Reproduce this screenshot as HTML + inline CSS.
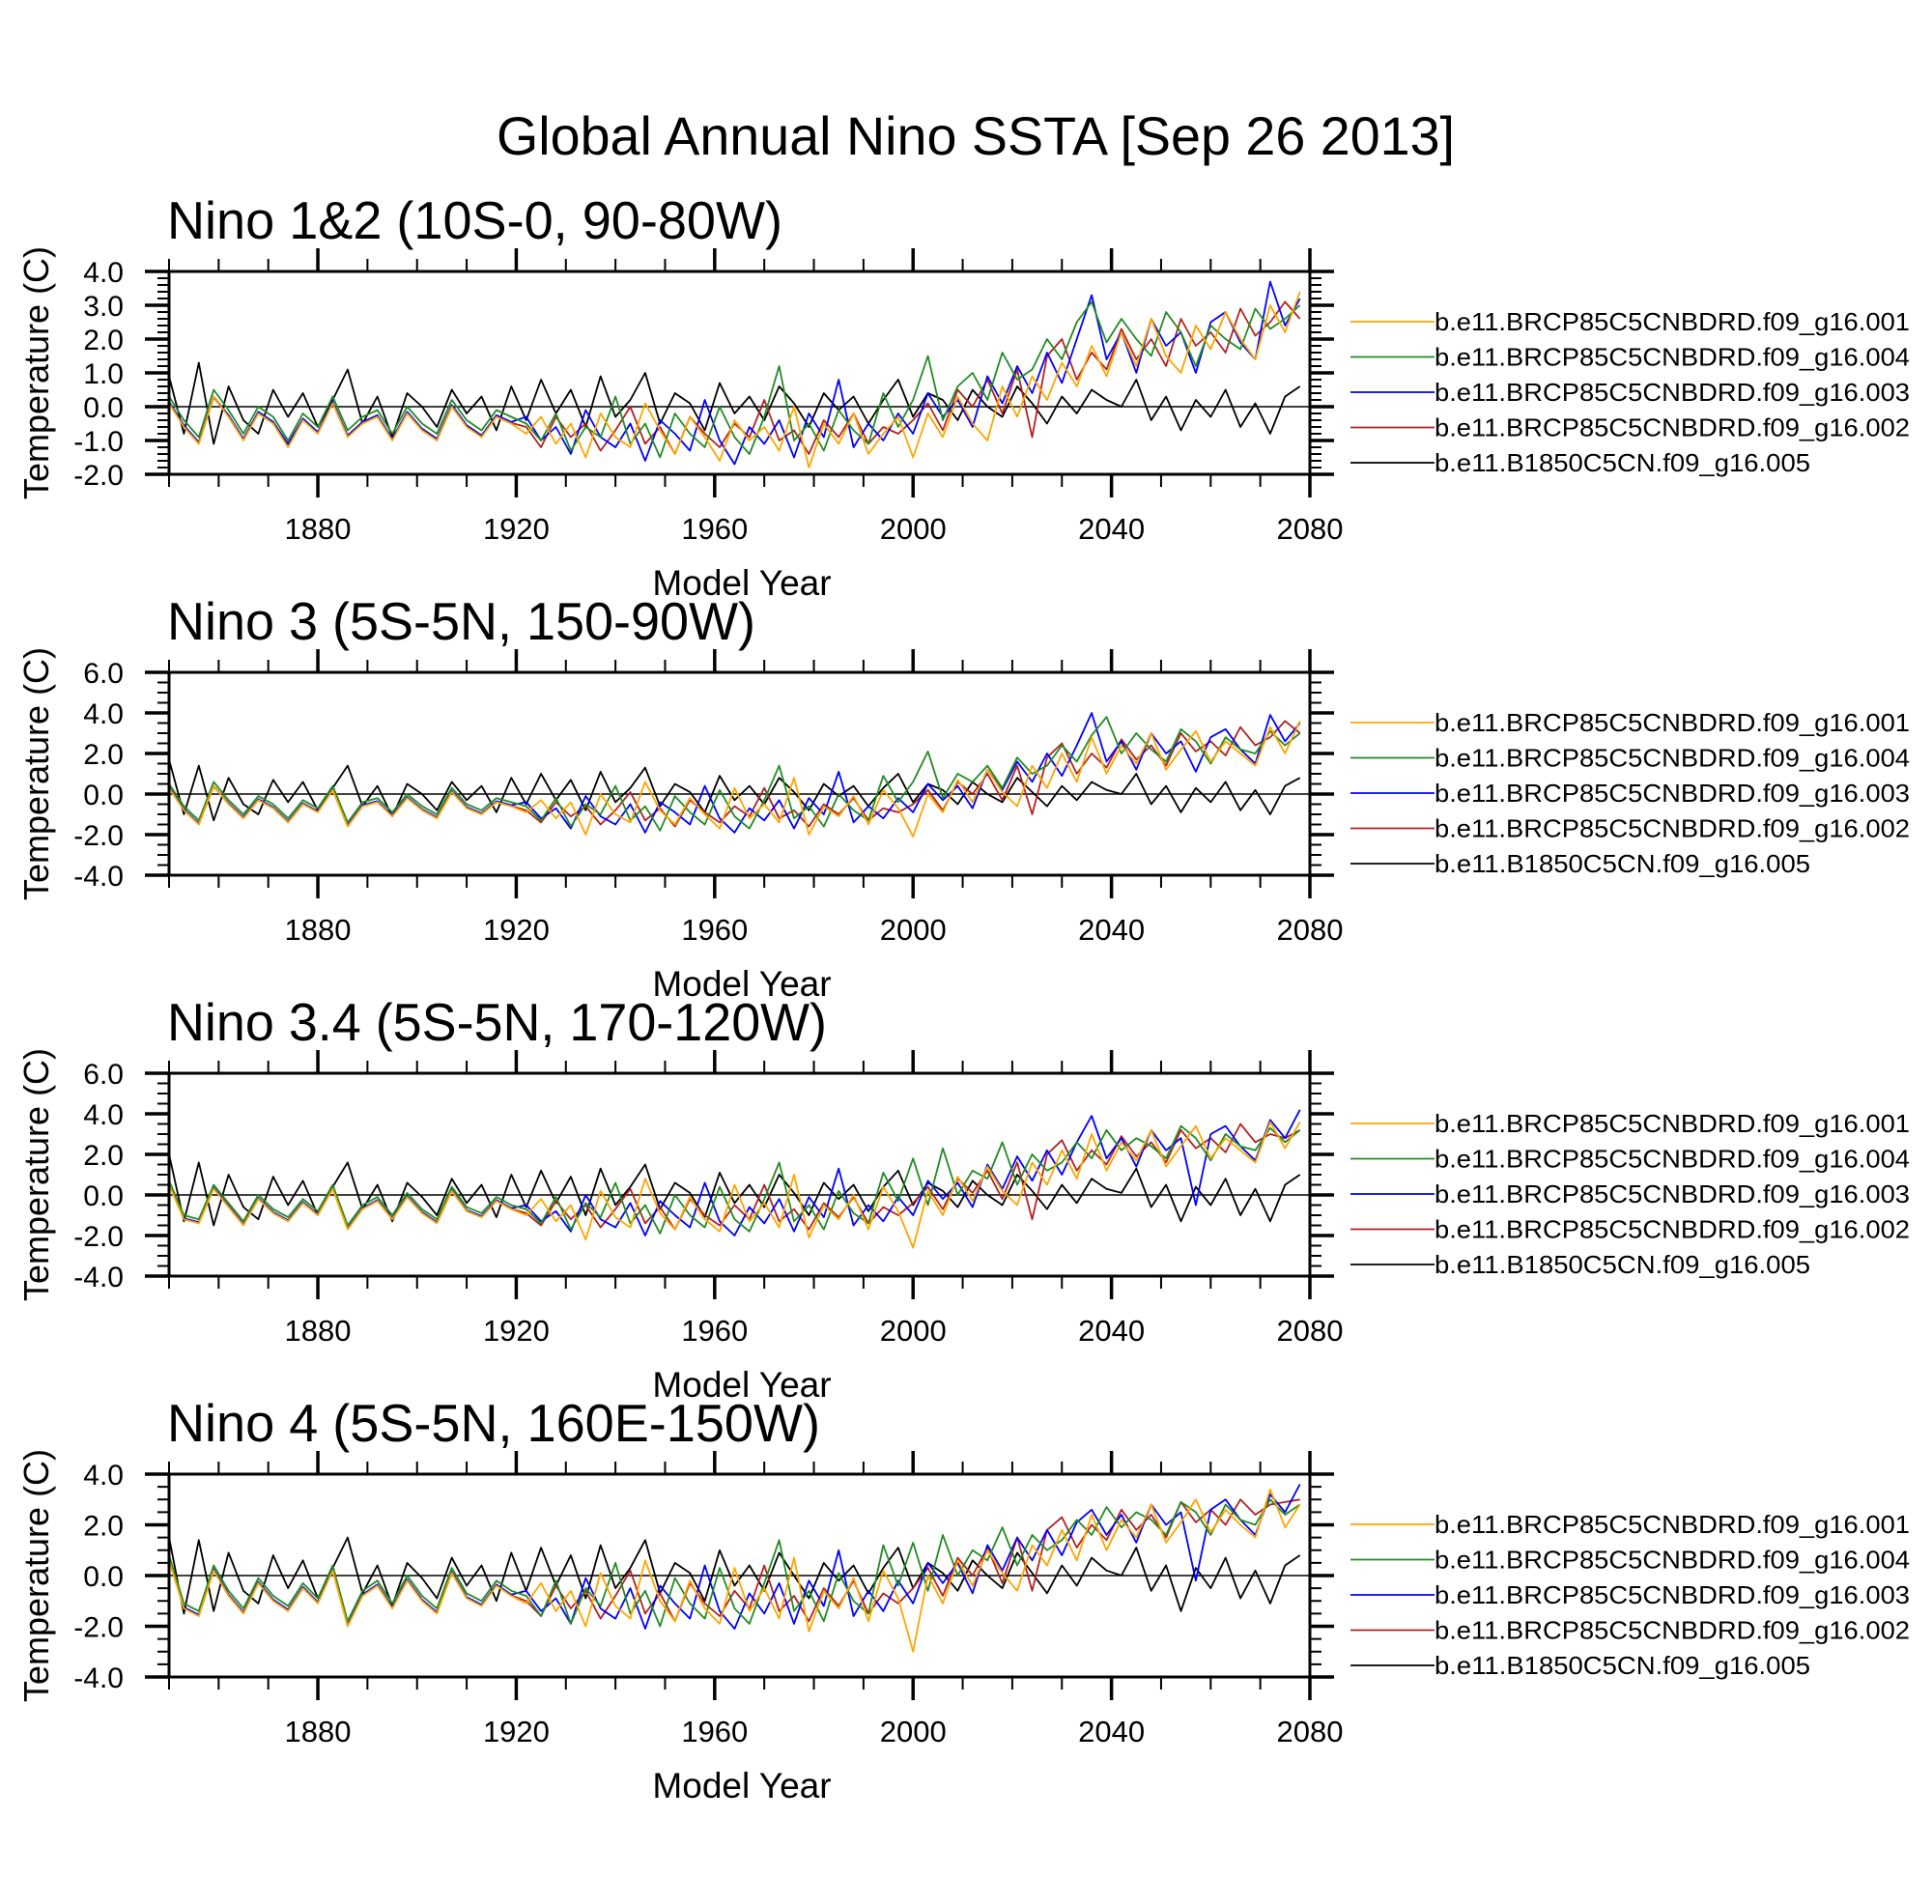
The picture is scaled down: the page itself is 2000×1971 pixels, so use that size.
<!DOCTYPE html>
<html><head><meta charset="utf-8"><title>Global Annual Nino SSTA</title>
<style>
html,body{margin:0;padding:0;background:#fff;}
svg{display:block;font-family:"Liberation Sans",Arial,sans-serif;}
</style></head>
<body>
<svg id="chart" width="2000" height="1971" viewBox="0 0 2000 1971" xmlns="http://www.w3.org/2000/svg">
<rect width="2000" height="1971" fill="#fff"/>
<text x="1010" y="160" font-size="56" text-anchor="middle" textLength="992" lengthAdjust="spacingAndGlyphs">Global Annual Nino SSTA [Sep 26 2013]</text>
</svg>
<script>
const years = [1850,1853,1856,1859,1862,1865,1868,1871,1874,1877,1880,1883,1886,1889,1892,1895,1898,1901,1904,1907,1910,1913,1916,1919,1922,1925,1928,1931,1934,1937,1940,1943,1946,1949,1952,1955,1958,1961,1964,1967,1970,1973,1976,1979,1982,1985,1988,1991,1994,1997,2000,2003,2006,2009,2012,2015,2018,2021,2024,2027,2030,2033,2036,2039,2042,2045,2048,2051,2054,2057,2060,2063,2066,2069,2072,2075,2078];
const xTicks = [1880,1920,1960,2000,2040,2080];
const seriesNames = ["b.e11.BRCP85C5CNBDRD.f09_g16.001","b.e11.BRCP85C5CNBDRD.f09_g16.004","b.e11.BRCP85C5CNBDRD.f09_g16.003","b.e11.BRCP85C5CNBDRD.f09_g16.002","b.e11.B1850C5CN.f09_g16.005"];
const panelTitles = ["Nino 1&2 (10S-0, 90-80W)","Nino 3 (5S-5N, 150-90W)","Nino 3.4 (5S-5N, 170-120W)","Nino 4 (5S-5N, 160E-150W)"];
const titleWidths = [637,609,683,676];
const yMins = [-2,-4,-4,-4];
const yMaxs = [4,6,6,4];
const yMajorSteps = [1,2,2,2];
const yMinorSteps = [0.2,0.5,0.5,0.5];

// Nino 1&2
const p1_001 = [0.1,-0.6,-1.1,0.3,-0.3,-1.0,-0.2,-0.5,-1.2,-0.4,-0.8,0.1,-0.9,-0.5,-0.3,-1.0,-0.2,-0.7,-1.0,0.0,-0.6,-0.9,-0.3,-0.5,-0.8,-0.3,-1.1,-0.5,-1.5,-0.2,-0.9,-1.2,0.1,-0.7,-1.4,-0.3,-0.9,-1.6,-0.4,-1.0,-0.6,-1.3,0.0,-1.8,-0.5,-1.1,-0.2,-1.4,-0.8,-0.3,-1.5,-0.2,-0.9,0.3,-0.5,-1.0,0.6,-0.3,0.9,0.2,1.3,0.6,1.8,0.9,2.2,1.2,2.6,1.5,1.0,2.4,1.7,2.8,2.0,1.4,3.0,2.2,3.4];
const p1_004 = [0.3,-0.4,-0.9,0.5,-0.1,-0.8,0.0,-0.3,-1.0,-0.2,-0.6,0.3,-0.7,-0.3,-0.1,-0.8,0.0,-0.5,-0.8,0.2,-0.4,-0.7,-0.1,-0.3,-0.5,-1.0,-0.2,-1.3,-0.6,-0.9,0.3,-1.1,-0.5,-1.5,-0.2,-0.8,-1.2,0.0,-0.9,-1.4,-0.3,1.2,-1.0,-0.5,-1.3,-0.1,-0.7,-1.1,0.4,-0.6,0.2,1.5,-0.4,0.6,1.0,0.2,1.6,0.8,1.1,2.0,1.4,2.5,3.1,1.9,2.6,2.0,1.5,2.8,2.2,1.2,2.4,2.0,1.7,2.9,2.3,2.6,3.0];
const p1_003 = [0.15,-0.55,-1.05,0.3,-0.25,-0.95,-0.15,-0.45,-1.1,-0.35,-0.75,0.15,-0.85,-0.45,-0.25,-0.95,-0.15,-0.65,-0.95,0.05,-0.55,-0.85,-0.25,-0.45,-0.3,-1.0,-0.6,-1.4,-0.1,-0.9,-1.2,-0.5,-1.6,-0.4,-0.8,-1.3,0.2,-1.0,-1.7,-0.6,-1.1,-0.4,-1.5,-0.2,-0.9,0.8,-1.2,-0.5,-1.0,-0.2,-0.8,0.4,-0.3,0.2,-0.6,0.9,0.1,1.2,0.4,1.6,0.7,2.0,3.3,1.4,2.2,1.0,2.6,1.8,2.2,1.0,2.5,2.8,1.9,1.4,3.7,2.4,3.2];
const p1_002 = [0.12,-0.58,-1.08,0.28,-0.28,-0.98,-0.18,-0.48,-1.15,-0.38,-0.78,0.12,-0.88,-0.48,-0.28,-0.98,-0.18,-0.68,-0.98,0.02,-0.58,-0.88,-0.28,-0.48,-0.6,-1.2,-0.3,-0.9,-0.5,-1.3,-0.7,0.0,-1.1,-0.6,-1.4,-0.3,-0.8,-1.2,-0.5,-0.9,0.2,-1.0,-0.7,-1.4,-0.4,-0.9,-0.2,-1.1,-0.6,-0.8,-0.4,0.1,-0.7,0.5,0.0,0.8,-0.2,1.1,-0.9,1.5,2.0,0.8,1.6,1.1,2.3,1.4,2.0,1.2,2.6,1.8,2.2,1.6,2.9,2.1,2.5,3.1,2.6];
const p1_005 = [0.9,-0.8,1.3,-1.1,0.6,-0.4,-0.8,0.5,-0.3,0.4,-0.6,0.2,1.1,-0.5,0.3,-0.9,0.4,0.0,-0.6,0.5,-0.2,0.3,-0.7,0.6,-0.4,0.8,-0.2,0.5,-0.6,0.9,-0.3,0.2,1.0,-0.5,0.4,0.1,-0.7,0.7,-0.2,0.3,-0.4,0.6,0.1,-0.6,0.4,-0.1,0.3,-0.5,0.2,0.8,-0.3,0.4,0.2,-0.4,0.5,0.0,-0.3,0.6,0.1,-0.5,0.3,-0.2,0.5,0.2,0.0,0.8,-0.4,0.3,-0.7,0.2,-0.3,0.5,-0.6,0.1,-0.8,0.3,0.6];

// Nino 3
const p2_001 = [0.3,-0.8,-1.5,0.4,-0.5,-1.2,-0.3,-0.7,-1.4,-0.5,-0.9,0.2,-1.6,-0.6,-0.4,-1.1,-0.2,-0.8,-1.2,0.1,-0.7,-1.0,-0.4,-0.6,-0.9,-0.3,-1.2,-0.4,-2.0,0.0,-1.0,-1.4,0.6,-0.8,-1.5,-0.2,-1.0,-1.7,0.3,-1.2,-0.5,-1.4,0.8,-2.0,-0.6,-1.1,-0.1,-1.5,0.2,-0.7,-2.1,0.0,-0.9,0.7,-0.4,1.2,0.1,-0.6,1.4,0.3,2.0,0.6,2.8,1.0,2.4,1.5,3.0,1.2,2.2,3.1,1.6,2.6,2.0,1.4,3.3,2.0,3.6];
const p2_004 = [0.5,-0.6,-1.3,0.6,-0.3,-1.0,-0.1,-0.5,-1.2,-0.3,-0.7,0.4,-1.4,-0.4,-0.2,-0.9,0.0,-0.6,-1.0,0.3,-0.5,-0.8,-0.2,-0.4,-0.6,-1.3,-0.2,-1.6,-0.5,-1.0,0.4,-1.3,-0.6,-1.8,-0.1,-0.9,-1.5,0.2,-1.1,-1.7,-0.3,1.4,-1.2,-0.6,-1.6,0.0,-0.8,-1.3,0.9,-0.4,0.6,2.1,-0.2,1.0,0.6,1.4,0.3,1.8,1.0,1.4,2.4,1.6,2.9,3.8,2.0,3.0,2.2,1.6,3.2,2.6,1.5,2.8,2.2,2.0,3.1,2.4,3.0];
const p2_003 = [0.35,-0.75,-1.45,0.4,-0.45,-1.15,-0.25,-0.65,-1.35,-0.45,-0.85,0.25,-1.55,-0.55,-0.35,-1.05,-0.15,-0.75,-1.15,0.15,-0.65,-0.95,-0.35,-0.55,-0.4,-1.2,-0.7,-1.7,-0.1,-1.1,-1.5,-0.5,-1.9,-0.4,-0.9,-1.5,0.4,-1.2,-1.9,-0.7,-1.3,-0.3,-1.7,-0.2,-1.0,1.1,-1.4,-0.6,-1.2,-0.2,-0.9,0.5,-0.3,0.4,-0.7,1.2,0.2,1.6,0.6,2.0,0.9,2.4,4.0,1.6,2.6,1.2,3.0,2.0,2.6,1.1,2.8,3.2,2.2,1.5,3.9,2.6,3.5];
const p2_002 = [0.32,-0.78,-1.48,0.38,-0.48,-1.18,-0.28,-0.68,-1.38,-0.48,-0.88,0.22,-1.58,-0.58,-0.38,-1.08,-0.18,-0.78,-1.18,0.12,-0.68,-0.98,-0.38,-0.58,-0.8,-1.4,-0.4,-1.1,-0.6,-1.5,-0.8,0.1,-1.3,-0.7,-1.6,-0.3,-0.9,-1.4,-0.6,-1.1,0.3,-1.2,-0.8,-1.6,-0.5,-1.0,-0.2,-1.3,-0.7,-0.9,-0.5,0.2,-0.8,0.6,0.0,1.0,-0.3,1.4,-1.0,1.8,2.5,1.0,2.0,1.3,2.7,1.7,2.4,1.4,3.0,2.1,2.6,1.9,3.3,2.4,2.8,3.6,3.0];
const p2_005 = [1.7,-1.0,1.4,-1.3,0.8,-0.5,-1.0,0.7,-0.4,0.6,-0.8,0.3,1.4,-0.6,0.4,-1.1,0.5,0.0,-0.8,0.6,-0.3,0.4,-0.9,0.8,-0.5,1.0,-0.3,0.7,-0.8,1.1,-0.4,0.3,1.3,-0.6,0.5,0.1,-0.9,0.9,-0.3,0.4,-0.5,0.8,0.1,-0.8,0.5,-0.1,0.4,-0.6,0.3,1.0,-0.4,0.5,0.2,-0.5,0.6,0.0,-0.4,0.8,0.1,-0.6,0.4,-0.3,0.6,0.2,0.0,1.0,-0.5,0.4,-0.9,0.3,-0.4,0.6,-0.8,0.2,-1.0,0.4,0.8];

// Nino 3.4
const p3_001 = [0.5,-1.2,-1.4,0.3,-0.6,-1.5,-0.2,-0.9,-1.3,-0.4,-1.0,0.3,-1.7,-0.7,-0.3,-1.2,-0.1,-0.9,-1.4,0.2,-0.8,-1.1,-0.3,-0.7,-1.0,-0.2,-1.3,-0.5,-2.2,0.2,-1.1,-1.6,0.8,-0.9,-1.7,-0.1,-1.2,-1.8,0.5,-1.3,-0.4,-1.6,1.0,-2.1,-0.5,-1.2,0.0,-1.7,0.4,-0.8,-2.6,0.2,-1.0,0.9,-0.3,1.4,0.2,-0.5,1.6,0.5,2.2,0.8,3.0,1.2,2.6,1.7,3.2,1.4,2.4,3.4,1.8,2.8,2.2,1.6,3.6,2.3,3.6];
const p3_004 = [0.7,-1.0,-1.2,0.5,-0.4,-1.3,0.0,-0.7,-1.1,-0.2,-0.8,0.5,-1.5,-0.5,-0.1,-1.0,0.1,-0.7,-1.2,0.4,-0.6,-0.9,-0.1,-0.5,-0.7,-1.4,-0.1,-1.7,-0.4,-1.1,0.6,-1.4,-0.5,-1.9,0.0,-1.0,-1.6,0.4,-1.2,-1.8,-0.2,1.6,-1.3,-0.5,-1.7,0.2,-0.9,-1.4,1.1,-0.3,1.8,-0.5,2.3,0.0,1.2,0.8,2.6,0.5,2.0,1.2,1.6,2.6,1.8,3.2,2.2,2.8,2.4,1.8,3.4,2.8,1.7,3.0,2.4,2.2,3.3,2.6,3.2];
const p3_003 = [0.55,-1.15,-1.35,0.35,-0.55,-1.45,-0.15,-0.85,-1.25,-0.35,-0.95,0.35,-1.65,-0.65,-0.25,-1.15,-0.05,-0.85,-1.35,0.25,-0.75,-1.05,-0.25,-0.65,-0.5,-1.3,-0.8,-1.8,0.0,-1.2,-1.6,-0.4,-2.0,-0.3,-1.0,-1.6,0.6,-1.3,-2.0,-0.6,-1.4,-0.2,-1.8,-0.1,-1.1,1.3,-1.5,-0.5,-1.3,-0.1,-1.0,0.7,-0.2,0.6,-0.6,1.5,0.3,1.9,0.7,2.2,1.0,2.6,3.9,1.8,2.8,1.4,3.2,2.2,2.8,-0.5,3.0,3.4,2.4,1.7,3.7,2.8,4.2];
const p3_002 = [0.52,-1.18,-1.38,0.32,-0.58,-1.48,-0.18,-0.88,-1.28,-0.38,-0.98,0.32,-1.68,-0.68,-0.28,-1.18,-0.08,-0.88,-1.38,0.22,-0.78,-1.08,-0.28,-0.68,-0.9,-1.5,-0.3,-1.2,-0.5,-1.6,-0.7,0.3,-1.4,-0.6,-1.7,-0.2,-1.0,-1.5,-0.5,-1.2,0.5,-1.3,-0.7,-1.7,-0.4,-1.1,-0.1,-1.4,-0.6,-1.0,-0.4,0.4,-0.7,0.8,0.1,1.2,-0.2,1.6,-1.2,2.0,2.7,1.2,2.2,1.5,2.9,1.9,2.6,1.6,3.2,2.3,2.8,2.1,3.5,2.6,3.0,2.8,3.2];
const p3_005 = [2.0,-1.3,1.6,-1.5,1.0,-0.6,-1.2,0.9,-0.5,0.7,-1.0,0.4,1.6,-0.7,0.5,-1.3,0.6,-0.1,-1.0,0.8,-0.4,0.5,-1.1,1.0,-0.6,1.2,-0.4,0.9,-1.0,1.3,-0.5,0.4,1.5,-0.7,0.6,0.1,-1.1,1.1,-0.4,0.5,-0.6,1.0,0.1,-1.0,0.6,-0.2,0.5,-0.8,0.4,1.2,-0.5,0.6,0.2,-0.6,0.7,0.0,-0.5,1.0,0.2,-0.7,0.5,-0.4,0.8,0.3,0.1,1.3,-0.6,0.5,-1.3,0.4,-0.5,0.8,-1.0,0.3,-1.3,0.5,1.0];

// Nino 4
const p4_001 = [0.6,-1.3,-1.6,0.2,-0.8,-1.5,-0.3,-1.0,-1.4,-0.5,-1.1,0.2,-2.0,-0.8,-0.4,-1.3,-0.2,-1.0,-1.5,0.1,-0.9,-1.2,-0.4,-0.8,-1.1,-0.3,-1.4,-0.6,-2.0,0.1,-1.2,-1.7,0.6,-1.0,-1.8,-0.2,-1.3,-1.9,0.3,-1.4,-0.5,-1.7,0.7,-2.2,-0.6,-1.3,-0.1,-1.8,0.2,-0.9,-3.0,0.0,-1.1,0.6,-0.4,1.0,0.1,-0.6,1.2,0.4,1.8,0.6,2.4,1.0,2.2,1.5,2.8,1.3,2.1,3.0,1.7,2.6,2.0,1.5,3.4,1.9,2.8];
const p4_004 = [0.8,-1.1,-1.4,0.4,-0.6,-1.3,-0.1,-0.8,-1.2,-0.3,-0.9,0.4,-1.8,-0.6,-0.2,-1.1,0.0,-0.8,-1.3,0.3,-0.7,-1.0,-0.2,-0.6,-0.8,-1.6,-0.2,-1.9,-0.5,-1.2,0.5,-1.5,-0.6,-2.0,-0.1,-1.1,-1.7,0.3,-1.3,-1.9,-0.3,1.4,-1.4,-0.6,-1.8,0.1,-1.0,-1.5,1.2,-0.4,1.3,-0.6,1.6,0.0,1.0,0.6,1.9,0.4,1.6,1.0,1.4,2.2,1.6,2.7,1.9,2.5,2.2,1.6,2.9,2.5,1.6,2.8,2.2,2.0,3.0,2.4,2.8];
const p4_003 = [0.65,-1.25,-1.55,0.25,-0.75,-1.45,-0.25,-0.95,-1.35,-0.45,-1.05,0.25,-1.95,-0.75,-0.35,-1.25,-0.15,-0.95,-1.45,0.15,-0.85,-1.15,-0.35,-0.75,-0.6,-1.4,-0.9,-1.9,-0.1,-1.3,-1.7,-0.5,-2.1,-0.4,-1.1,-1.7,0.4,-1.4,-2.1,-0.7,-1.5,-0.3,-1.9,-0.2,-1.2,1.0,-1.6,-0.6,-1.4,-0.2,-1.1,0.5,-0.3,0.5,-0.7,1.2,0.2,1.5,0.6,1.8,0.8,2.1,2.6,1.6,2.4,1.3,2.8,2.0,2.5,-0.2,2.6,3.0,2.2,1.6,3.2,2.5,3.6];
const p4_002 = [0.62,-1.28,-1.58,0.22,-0.78,-1.48,-0.28,-0.98,-1.38,-0.48,-1.08,0.22,-1.98,-0.78,-0.38,-1.28,-0.18,-0.98,-1.48,0.12,-0.88,-1.18,-0.38,-0.78,-1.0,-1.6,-0.4,-1.3,-0.6,-1.7,-0.8,0.2,-1.5,-0.7,-1.8,-0.3,-1.1,-1.6,-0.6,-1.3,0.4,-1.4,-0.8,-1.8,-0.5,-1.2,-0.2,-1.5,-0.7,-1.1,-0.5,0.3,-0.8,0.7,0.0,1.1,-0.3,1.5,-0.6,1.8,2.3,1.1,2.0,1.4,2.6,1.8,2.4,1.5,2.9,2.1,2.6,2.0,3.0,2.4,2.8,2.9,3.0];
const p4_005 = [1.5,-1.5,1.4,-1.4,0.9,-0.6,-1.1,0.8,-0.5,0.6,-0.9,0.3,1.5,-0.7,0.4,-1.2,0.5,-0.1,-0.9,0.7,-0.4,0.4,-1.0,0.9,-0.6,1.1,-0.4,0.8,-0.9,1.2,-0.5,0.3,1.4,-0.7,0.5,0.1,-1.0,1.0,-0.4,0.4,-0.6,0.9,0.0,-0.9,0.5,-0.2,0.4,-0.7,0.3,1.1,-0.5,0.5,0.1,-0.6,0.6,0.0,-0.5,0.9,0.1,-0.7,0.4,-0.4,0.7,0.2,0.0,1.1,-0.6,0.4,-1.4,0.3,-0.5,0.7,-0.9,0.2,-1.1,0.4,0.8];

const panelData = [
  [p1_001,p1_004,p1_003,p1_002,p1_005],
  [p2_001,p2_004,p2_003,p2_002,p2_005],
  [p3_001,p3_004,p3_003,p3_002,p3_005],
  [p4_001,p4_004,p4_003,p4_002,p4_005]
];
const colors = ["#FFA500","#228B22","#0000FF","#B22222","#000000"];
const drawOrder = [4,3,2,1,0];

const NS = "http://www.w3.org/2000/svg";
const svg = document.getElementById("chart");
function mk(tag, attrs, parent, text){
  const e = document.createElementNS(NS, tag);
  for (const k in attrs) e.setAttribute(k, attrs[k]);
  if (text !== undefined) e.textContent = text;
  (parent || svg).appendChild(e);
  return e;
}
const X0 = 175, X1 = 1356, XMIN = 1850, XMAX = 2080;
const PH = 210, TOP0 = 281, DY = 415;
const xs = v => X0 + (v - XMIN) / (XMAX - XMIN) * (X1 - X0);

for (let p = 0; p < 4; p++) {
  const top = TOP0 + p * DY, bot = top + PH;
  const ymin = yMins[p], ymax = yMaxs[p];
  const ys = v => bot - (v - ymin) / (ymax - ymin) * PH;
  const g = mk("g", {});
  
  

  const t = mk("text", {x: 173, y: top - 34, "font-size": 55, textLength: titleWidths[p], lengthAdjust: "spacingAndGlyphs"}, g, panelTitles[p]);
  
  

  const z = mk("line", {x1: X0, x2: X1, y1: ys(0), y2: ys(0), stroke: "#000", "stroke-width": 1.6}, g);
  
  

  const clipId = "clip" + p;
  const cp = mk("clipPath", {id: clipId}, g);
  mk("rect", {x: X0, y: top, width: X1 - X0, height: PH}, cp);
  for (const s of drawOrder) {
    const vals = panelData[p][s];
    const n = Math.min(vals.length, years.length);
    let d = "";
    for (let i = 0; i < n; i++) d += (i ? "L" : "M") + xs(years[i]).toFixed(1) + "," + ys(vals[i]).toFixed(1);
    const path = mk("path", {d: d, fill: "none", stroke: colors[s], "stroke-width": 1.8, "stroke-linejoin": "round", "clip-path": "url(#" + clipId + ")"}, g);
    
    
  }

  const fr = mk("rect", {x: X0, y: top, width: X1 - X0, height: PH, fill: "none", stroke: "#000", "stroke-width": 3}, g);
  
  

  for (let yr = 1850; yr <= 2080; yr += 10) {
    const major = xTicks.indexOf(yr) >= 0;
    const L = major ? 24 : 13, w = major ? 3.5 : 2;
    mk("line", {x1: xs(yr), x2: xs(yr), y1: top, y2: top - L, stroke: "#000", "stroke-width": w}, g);
    mk("line", {x1: xs(yr), x2: xs(yr), y1: bot, y2: bot + L, stroke: "#000", "stroke-width": w}, g);
  }
  for (const yr of xTicks) {
    const tl = mk("text", {x: xs(yr), y: bot + 67, "font-size": 31, "text-anchor": "middle"}, g, String(yr));
    
    
  }
  const nMin = Math.round((ymax - ymin) / yMinorSteps[p]);
  for (let i = 0; i <= nMin; i++) {
    const v = ymin + i * yMinorSteps[p];
    const major = Math.abs(v / yMajorSteps[p] - Math.round(v / yMajorSteps[p])) < 1e-6;
    const L = major ? 25 : 12, w = major ? 3.5 : 2;
    mk("line", {x1: X0, x2: X0 - L, y1: ys(v), y2: ys(v), stroke: "#000", "stroke-width": w}, g);
    mk("line", {x1: X1, x2: X1 + L, y1: ys(v), y2: ys(v), stroke: "#000", "stroke-width": w}, g);
    if (major) {
      const yl = mk("text", {x: 128, y: ys(v) + 11, "font-size": 30, "text-anchor": "end"}, g, v.toFixed(1));
      
      
    }
  }
  const yt = mk("text", {x: 0, y: 0, "font-size": 36, "text-anchor": "middle", transform: "translate(50," + (top + PH / 2) + ") rotate(-90)"}, g, "Temperature (C)");
  
  
  const xt = mk("text", {x: 768, y: bot + 125, "font-size": 37, "text-anchor": "middle"}, g, "Model Year");
  
  

  for (let s = 0; s < 5; s++) {
    const ly = top + 52 + s * 36.5;
    const le = mk("g", {}, g);
    
    
    mk("line", {x1: 1398, x2: 1485, y1: ly, y2: ly, stroke: colors[s], "stroke-width": 1.8}, le);
    mk("text", {x: 1485, y: ly + 9, "font-size": 26, textLength: s === 4 ? 389 : 492, lengthAdjust: "spacingAndGlyphs"}, le, seriesNames[s]);
  }
}
</script>
</body></html>
